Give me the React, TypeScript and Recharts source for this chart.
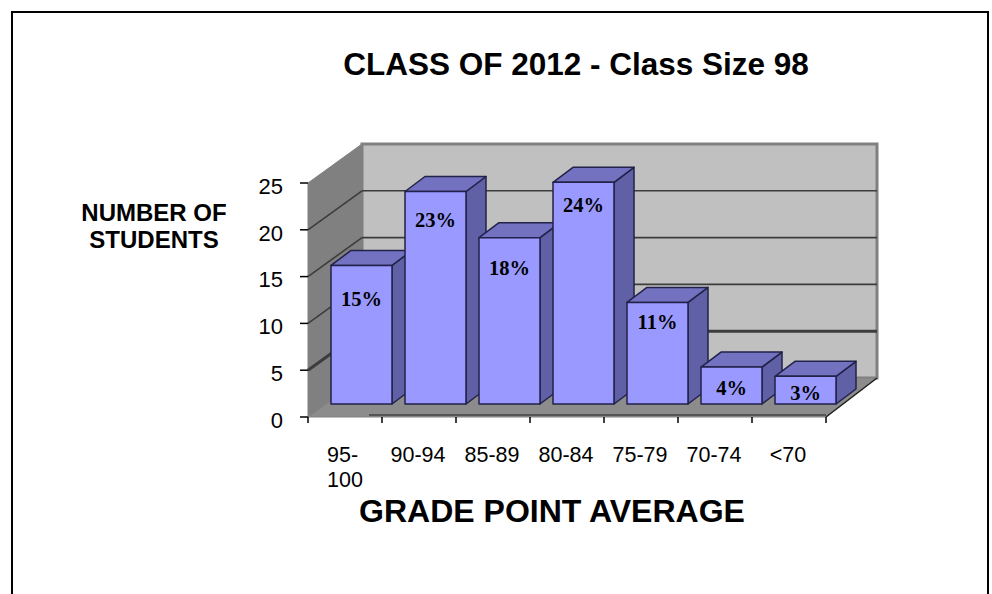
import React from "react";
import {
  BarChart,
  Bar,
  XAxis,
  YAxis,
  LabelList,
  ReferenceArea,
  ReferenceLine,
} from "recharts";

const gradeBands = ["95-100", "90-94", "85-89", "80-84", "75-79", "70-74", "<70"];
const studentCounts = [15, 23, 18, 24, 11, 4, 3];
const percentLabels = ["15%", "23%", "18%", "24%", "11%", "4%", "3%"];
const yTicks = [0, 5, 10, 15, 20, 25];

const chartData = gradeBands.map((band, i) => ({
  band,
  count: studentCounts[i],
  pct: percentLabels[i],
}));

// fake 3d offsets
const BAR_SHIFT_X = 16;
const BAR_SHIFT_Y = -13;
const BAR_DEPTH_X = 20;
const BAR_DEPTH_Y = -15;
const BAR_PERSPECTIVE = 0.987; // bars sit further back than the axis
const WALL_LEFT_DX = 54;
const WALL_RIGHT_DX = 51;
const WALL_DY = -39;

// hand placed label drops below each bar top, as in the original
const labelDrops = [41, 35, 37, 30, 27, 28, 24];

const SANS = "'Liberation Sans', Arial, sans-serif";
const SERIF = "'Liberation Serif', 'Times New Roman', serif";

function pts(list: number[][]) {
  return list.map((p) => p.join(",")).join(" ");
}

function Walls({ x, y, width, height }: any) {
  const bottom = y + height;
  const right = x + width;
  const backL = x + WALL_LEFT_DX;
  const backR = right + WALL_RIGHT_DX;
  return (
    <g>
      <polygon
        points={pts([[x, y], [backL, y + WALL_DY], [backL, bottom + WALL_DY], [x, bottom]])}
        fill="#808080"
        stroke="#808080"
      />
      <rect
        x={backL}
        y={y + WALL_DY}
        width={backR - backL}
        height={height}
        fill="#c0c0c0"
        stroke="#808080"
        strokeWidth={3}
      />
      <polygon
        points={pts([[x, bottom], [right, bottom], [backR, bottom + WALL_DY], [backL, bottom + WALL_DY]])}
        fill="#8c8c8c"
        stroke="#808080"
      />
      <line x1={x + 61} x2={right} y1={bottom - 2} y2={bottom - 2} stroke="#555" strokeWidth={2} />
      <line x1={right} x2={backR} y1={bottom} y2={bottom + WALL_DY} stroke="#222" strokeWidth={1.5} />
    </g>
  );
}

function GridLine3D({ x1, y1, x2, y2, thick }: any) {
  const backL = x1 + WALL_LEFT_DX;
  const backR = x2 + WALL_RIGHT_DX;
  return (
    <g stroke="#3c3c3c" fill="none" strokeWidth={thick ? 3 : 1.6}>
      <line x1={x1} y1={y1} x2={backL} y2={y1 + WALL_DY} />
      <line x1={backL} y1={y2 + WALL_DY} x2={backR} y2={y2 + WALL_DY} />
    </g>
  );
}

function Bar3D({ x, y, width, height }: any) {
  const left = x + BAR_SHIFT_X;
  const right = left + width;
  const bottom = y + height + BAR_SHIFT_Y;
  const top = bottom - height * BAR_PERSPECTIVE;
  return (
    <g stroke="#22224a" strokeWidth={1.5} strokeLinejoin="round">
      <polygon
        points={pts([[right, top], [right + BAR_DEPTH_X, top + BAR_DEPTH_Y], [right + BAR_DEPTH_X, bottom + BAR_DEPTH_Y], [right, bottom]])}
        fill="#6060a6"
      />
      <polygon
        points={pts([[left, top], [left + BAR_DEPTH_X, top + BAR_DEPTH_Y], [right + BAR_DEPTH_X, top + BAR_DEPTH_Y], [right, top]])}
        fill="#7272c0"
      />
      <rect x={left} y={top} width={width} height={bottom - top} fill="#9999ff" />
    </g>
  );
}

function PctLabel({ x, y, width, height, value, index }: any) {
  const top = y + height + BAR_SHIFT_Y - height * BAR_PERSPECTIVE;
  return (
    <text
      x={x + BAR_SHIFT_X + width / 2}
      y={top + labelDrops[index]}
      textAnchor="middle"
      fontFamily={SERIF}
      fontWeight="bold"
      fontSize={20.5}
      fill="#000"
    >
      {value}
    </text>
  );
}

function BandTick({ x, y, payload, index }: any) {
  const label: string = payload.value;
  const half = payload.offset ?? 37;
  const isLast = index === gradeBands.length - 1;
  // only the long label wraps in the original
  const wrapped = label.length > 5;
  return (
    <g>
      <line x1={x - half} x2={x - half} y1={y} y2={y + 6} stroke="#000" strokeWidth={1.5} />
      {isLast && <line x1={x + half} x2={x + half} y1={y} y2={y + 6} stroke="#000" strokeWidth={1.5} />}
      {wrapped ? (
        <text fontFamily={SANS} fontSize={21.5} fill="#000">
          <tspan x={x - 18} y={y + 45}>{label.slice(0, 3)}</tspan>
          <tspan x={x - 18} y={y + 70}>{label.slice(3)}</tspan>
        </text>
      ) : (
        <text x={x - 1} y={y + 45} textAnchor="middle" fontFamily={SANS} fontSize={21.5} fill="#000">
          {label}
        </text>
      )}
    </g>
  );
}

export default function App() {
  return (
    <div style={{ position: "absolute", left: 0, top: 0, width: 992, height: 594, overflow: "hidden", background: "#fff" }}>
      <div
        style={{
          position: "absolute",
          left: 11,
          top: 11,
          width: 974,
          height: 600,
          borderLeft: "2px solid #000",
          borderRight: "2px solid #000",
          borderTop: "2px solid #000",
        }}
      />
      <BarChart
        width={992}
        height={594}
        data={chartData}
        margin={{ top: 183, right: 166, bottom: 137, left: 248 }}
        barSize={61}
        style={{ position: "absolute", left: 0, top: 0 }}
      >
        <ReferenceArea y1={0} y2={25} ifOverflow="visible" zIndex={-20} shape={<Walls />} />
        {yTicks.slice(1, 5).map((t) => (
          <ReferenceLine key={t} y={t} ifOverflow="visible" zIndex={-10} shape={<GridLine3D thick={t === 5} />} />
        ))}
        <XAxis
          dataKey="band"
          height={40}
          axisLine={false}
          tickLine={false}
          tickSize={0}
          tickMargin={0}
          interval={0}
          tick={<BandTick />}
        />
        <YAxis
          width={60}
          domain={[0, 25]}
          ticks={yTicks}
          axisLine={false}
          tickLine={{ stroke: "#000", strokeWidth: 1.5 }}
          tickSize={8}
          tickMargin={17}
          tick={{ fill: "#000", fontSize: 22, fontFamily: SANS, dy: 3 }}
        />
        <Bar dataKey="count" shape={<Bar3D />} isAnimationActive={false}>
          <LabelList dataKey="pct" content={<PctLabel />} />
        </Bar>
        <text x={576} y={74.5} textAnchor="middle" fontFamily={SANS} fontWeight="bold" fontSize={31.5} fill="#000">
          CLASS OF 2012 - Class Size 98
        </text>
        <text x={552} y={522} textAnchor="middle" fontFamily={SANS} fontWeight="bold" fontSize={32} fill="#000">
          GRADE POINT AVERAGE
        </text>
        <text x={154} y={221} textAnchor="middle" fontFamily={SANS} fontWeight="bold" fontSize={24} fill="#000">
          NUMBER OF
        </text>
        <text x={154} y={248} textAnchor="middle" fontFamily={SANS} fontWeight="bold" fontSize={24} fill="#000">
          STUDENTS
        </text>
      </BarChart>
    </div>
  );
}
